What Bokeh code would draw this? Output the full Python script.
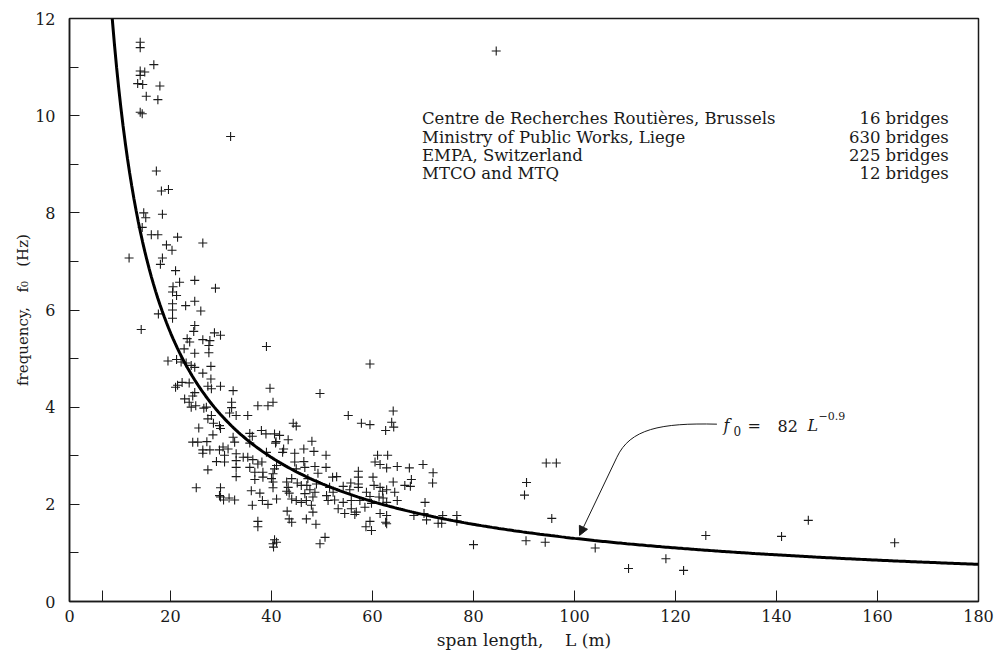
import numpy as np
from bokeh.plotting import figure
from bokeh.models import FixedTicker, Range1d, Label, Arrow, NormalHead, ColumnDataSource
from bokeh.core.properties import value
from bokeh.embed import file_html
from bokeh.resources import INLINE

# ---- data ----
span_L = [
    14.0, 14.0, 16.7, 14.0, 14.9, 14.0, 13.5, 14.5, 17.9, 15.2, 17.5, 14.0, 14.4, 17.2, 18.2, 19.6,
    14.7, 15.1, 18.4, 14.4, 16.2, 17.5, 21.4, 11.8, 31.9, 84.5,
    19.2, 26.4, 20.3, 18.4, 18.0, 21.0, 21.8, 24.8, 20.5, 20.4, 21.2, 28.9, 24.8, 20.4, 23.0, 20.4,
    26.0, 17.6, 20.4, 14.2, 24.8, 24.6, 28.7, 29.9, 23.3, 23.8, 26.4, 27.8, 39.0, 27.6, 22.7, 24.8,
    27.6, 19.5, 21.2, 22.1, 23.1, 24.1, 24.8, 28.0, 26.4, 28.0, 21.0, 22.3, 23.7, 21.4, 27.4, 29.9,
    28.1, 32.4, 39.7, 24.8, 24.4, 22.8, 23.7, 25.0, 24.1, 26.6, 32.1, 32.1, 37.3, 39.3, 40.3,
    27.1, 31.7, 33.0, 28.1, 27.4, 35.3, 28.5, 29.7, 29.9, 25.6, 44.3, 28.4, 32.4, 32.7, 35.7, 36.2,
    38.0, 38.9, 40.6, 41.6, 43.3, 40.8, 40.9, 24.4, 25.4, 27.2, 35.7, 31.4, 26.4, 27.8, 29.7, 30.4,
    42.4, 42.2, 39.0, 44.6, 26.4, 33.0, 34.4, 35.3, 30.7, 30.7, 29.1, 33.0, 36.3, 37.3, 38.1, 44.6,
    33.0, 35.7, 40.6, 41.0, 44.9, 27.4, 36.7, 38.3, 40.3, 40.0, 33.0, 36.7, 38.3, 44.0, 43.0, 40.3,
    40.3, 25.1, 43.3, 43.0, 43.5, 36.0, 37.7, 29.9, 29.9, 29.7, 30.5, 31.6, 32.7, 44.0, 44.9, 41.0,
    38.2, 39.3, 36.2, 43.1, 43.5, 44.0, 37.3, 37.3, 40.6, 40.3, 41.0, 40.4,
    59.5, 49.6, 55.2, 57.8, 59.5, 64.1, 63.8, 64.2, 62.6, 44.9, 48.0, 46.4, 48.4, 50.8, 46.4, 48.6,
    50.8, 46.6, 61.0, 63.0, 60.5, 61.5, 62.8, 64.9, 67.3, 70.0, 72.0, 57.2, 57.2, 52.9, 52.1, 49.2,
    60.1,
    57.2, 57.2, 60.3, 64.1, 67.7, 67.5, 66.4, 71.9, 55.7, 55.5, 48.9, 47.2, 47.0, 45.1, 45.9, 51.5,
    52.2, 54.2, 61.5, 62.0, 62.8, 64.4, 58.8, 47.6, 48.6, 46.6, 48.2, 46.9, 45.9, 50.9, 51.2, 52.5,
    54.2, 55.8, 57.5, 59.5, 59.8, 61.3, 62.1, 62.8, 64.9, 70.4, 47.9, 48.2, 53.2, 54.5, 55.8, 56.8,
    56.5, 58.5, 61.5, 62.8, 62.6, 68.2, 70.2, 70.7, 73.0, 73.7, 76.7, 76.7, 46.9, 48.8, 59.5, 58.7,
    59.8, 62.8, 50.6, 49.6,
    94.4, 96.4, 90.5, 90.1, 95.5, 73.9, 80.0, 90.4, 94.2, 104.1, 110.7, 118.1, 121.6, 126.0,
    141.0, 146.3, 163.4,
]
freq_f = [
    11.51, 11.40, 11.05, 10.92, 10.90, 10.83, 10.66, 10.64, 10.61, 10.40, 10.33, 10.07, 10.04, 8.86, 8.45, 8.48,
    8.00, 7.90, 7.97, 7.70, 7.55, 7.55, 7.50, 7.07, 9.57, 11.33,
    7.34, 7.38, 7.23, 7.07, 6.94, 6.81, 6.57, 6.61, 6.48, 6.37, 6.30, 6.45, 6.18, 6.13, 6.09, 6.00,
    5.98, 5.92, 5.83, 5.60, 5.68, 5.56, 5.53, 5.48, 5.41, 5.34, 5.39, 5.37, 5.25, 5.27, 5.20, 5.11,
    5.12, 4.95, 4.98, 4.93, 4.91, 4.86, 4.82, 4.84, 4.70, 4.58, 4.41, 4.51, 4.50, 4.45, 4.43, 4.43,
    4.38, 4.34, 4.39, 4.30, 4.23, 4.17, 4.10, 4.03, 4.00, 3.98, 4.10, 3.99, 4.03, 4.03, 4.10,
    4.00, 3.88, 3.83, 3.83, 3.76, 3.83, 3.67, 3.62, 3.56, 3.57, 3.67, 3.43, 3.38, 3.28, 3.46, 3.40,
    3.52, 3.45, 3.45, 3.42, 3.33, 3.26, 3.29, 3.28, 3.28, 3.29, 3.26, 3.14, 3.12, 3.12, 3.12, 3.18,
    3.14, 3.07, 3.07, 3.05, 3.05, 3.04, 2.97, 2.97, 3.01, 2.87, 2.88, 2.90, 2.92, 2.83, 2.87, 2.87,
    2.76, 2.76, 2.73, 2.80, 2.73, 2.71, 2.66, 2.66, 2.63, 2.53, 2.57, 2.51, 2.56, 2.53, 2.46, 2.46,
    2.34, 2.34, 2.35, 2.27, 2.23, 2.28, 2.23, 2.34, 2.15, 2.18, 2.09, 2.13, 2.09, 2.11, 2.08, 2.11,
    2.08, 2.00, 1.98, 1.86, 1.70, 1.63, 1.65, 1.54, 1.27, 1.19, 1.22, 1.12,
    4.89, 4.28, 3.83, 3.67, 3.64, 3.92, 3.69, 3.59, 3.52, 3.61, 3.30, 3.14, 3.09, 3.01, 2.88, 2.78,
    2.76, 2.76, 3.01, 3.01, 2.87, 2.82, 2.75, 2.78, 2.75, 2.82, 2.65, 2.68, 2.56, 2.57, 2.56, 2.64,
    2.56,
    2.42, 2.35, 2.39, 2.46, 2.51, 2.37, 2.39, 2.44, 2.44, 2.30, 2.42, 2.53, 2.39, 2.44, 2.39, 2.35,
    2.25, 2.37, 2.35, 2.27, 2.30, 2.25, 2.25, 2.30, 2.25, 2.22, 2.15, 2.08, 2.04, 2.18, 2.08, 2.09,
    2.04, 2.08, 2.08, 2.16, 2.02, 2.15, 2.13, 2.04, 2.08, 2.04, 1.98, 1.84, 1.91, 1.81, 1.91, 1.84,
    1.79, 1.94, 1.81, 1.77, 1.63, 1.77, 1.81, 1.68, 1.61, 1.61, 1.77, 1.65, 1.70, 1.59, 1.65, 1.54,
    1.46, 1.60, 1.32, 1.19,
    2.85, 2.85, 2.45, 2.19, 1.71, 1.77, 1.17, 1.25, 1.22, 1.10, 0.68, 0.88, 0.64, 1.36,
    1.34, 1.67, 1.21,
]

fit_coef = 82.0
fit_exp = -0.9

source_names = [
    "Centre de Recherches Routières, Brussels",
    "Ministry of Public Works, Liege",
    "EMPA, Switzerland",
    "MTCO and MTQ",
]
bridge_counts = [16, 630, 225, 12]

x_tick_values = [0, 20, 40, 60, 80, 100, 120, 140, 160, 180]
y_tick_values = [0, 2, 4, 6, 8, 10, 12]
y_minor_values = [1, 3, 5, 7, 9, 11]

SERIF = "DejaVu Serif"
INK = "#1a1a1a"
NB = "\u00a0"

p = figure(width=997, height=654, x_range=Range1d(0, 180), y_range=Range1d(0, 12),
           output_backend="svg", toolbar_location=None,
           min_border_left=69, min_border_right=19, min_border_top=18, min_border_bottom=53)
p.grid.visible = False
p.outline_line_color = INK
p.outline_line_width = 1.5
p.background_fill_color = "white"
p.border_fill_color = "white"

for ax in (p.xaxis[0], p.yaxis[0]):
    ax.axis_line_color = INK
    ax.axis_line_width = 1.5
    ax.major_tick_line_color = INK
    ax.minor_tick_line_color = INK
    ax.major_tick_out = 0
    ax.minor_tick_out = 0
    ax.major_label_text_font = SERIF
    ax.major_label_text_font_size = "16px"
    ax.major_label_text_color = INK
    ax.axis_label_text_font = SERIF
    ax.axis_label_text_font_style = "normal"
    ax.axis_label_text_color = INK

p.xaxis.ticker = FixedTicker(ticks=x_tick_values, minor_ticks=[6.5])
p.xaxis.major_tick_in = 11
p.xaxis.minor_tick_in = 11
p.xaxis.major_label_standoff = 8
p.xaxis.axis_label = f"span length,{NB}{NB}{NB} L (m)"
p.xaxis.axis_label_text_font_size = "17px"
p.xaxis.axis_label_standoff = 5

p.yaxis.ticker = FixedTicker(ticks=y_tick_values, minor_ticks=y_minor_values)
p.yaxis.major_tick_in = 10
p.yaxis.minor_tick_in = 9
p.yaxis.major_label_standoff = 14
p.yaxis.axis_label = f"frequency,{NB}{NB} f₀{NB}{NB} (Hz)"
p.yaxis.axis_label_text_font_size = "15px"
p.yaxis.axis_label_standoff = 0


def add_text(x, y, text, size="16px", style="normal", dx=0, dy=0):
    p.add_layout(Label(x=x, y=y, x_offset=dx, y_offset=dy, text=text, text_font=SERIF,
                       text_font_size=size, text_font_style=style, text_color=INK,
                       text_baseline="alphabetic"))


# data points
src = ColumnDataSource(dict(L=span_L, f=freq_f))
p.scatter("L", "f", source=src, marker="cross", size=9, line_color=INK, line_width=1.1)

# fitted curve f0 = 82 L^-0.9
L_start = (12.0 / fit_coef) ** (1.0 / fit_exp)
Lc = np.linspace(L_start, 180, 400)
p.line(Lc, fit_coef * Lc ** fit_exp, line_color="black", line_width=3)

# source listing
n_rows = len(source_names)
row_y = [9.94 - 0.38 * i for i in range(n_rows)]
p.text(x=[69.8] * n_rows, y=row_y, text=source_names, text_font=value(SERIF),
       text_font_size="16.5px", text_baseline="middle", text_align="left", text_color=INK)
p.text(x=[174.1] * n_rows, y=row_y, text=[f"{c} bridges" for c in bridge_counts],
       text_font=value(SERIF), text_font_size="16.5px", text_baseline="middle",
       text_align="right", text_color=INK)

# annotation with leader
ax0, ay0 = 129.5, 3.62
add_text(ax0, ay0, "f", style="italic")
add_text(ax0, ay0, "0", size="12px", dx=10, dy=-5)
add_text(ax0, ay0, "=", dx=24)
add_text(ax0, ay0, "82", dx=54)
add_text(ax0, ay0, "L", style="italic", dx=84)
add_text(ax0, ay0, "−0.9", size="11px", dx=95, dy=10)

p.bezier(x0=[128.2], y0=[3.65], x1=[108.4], y1=[2.97], cx0=[117.0], cy0=[3.68],
         cx1=[111.0], cy1=[3.55], line_color=INK, line_width=1)
p.add_layout(Arrow(end=NormalHead(size=9, fill_color=INK, line_color=INK, line_width=1),
                   x_start=108.4, y_start=2.97, x_end=101.0, y_end=1.36,
                   line_color=INK, line_width=1))

open("out.html", "w").write(file_html(p, INLINE))
